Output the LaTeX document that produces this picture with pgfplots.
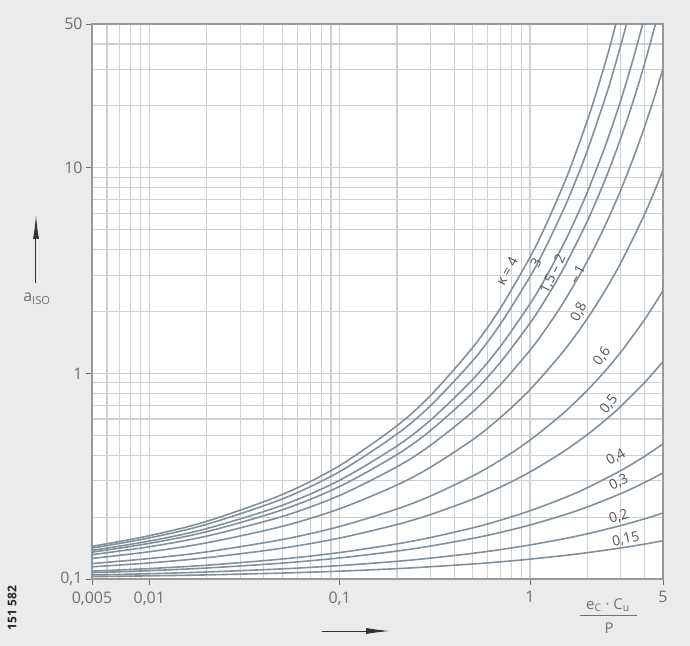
\documentclass[border=0pt]{standalone}
\usepackage{fontspec}
\setmainfont{Open Sans}
\usepackage{pgfplots}
\pgfplotsset{compat=1.18}
\usetikzlibrary{arrows.meta,backgrounds}

\definecolor{bgout}{RGB}{235,235,235}
\definecolor{gridc}{RGB}{208,208,208}
\definecolor{curve}{RGB}{128,145,158}
\definecolor{txt}{RGB}{112,112,112}
\definecolor{lbl}{RGB}{85,85,85}

\begin{document}
\begin{tikzpicture}
\begin{axis}[
  scale only axis, width=571bp, height=555bp,
  xmode=log, ymode=log,
  xmin=0.005, xmax=5, ymin=0.1, ymax=50,
  xtick={0.005,0.01,0.1,1,5},
  xticklabels={{0,005},{0,01},{0,1},1,5},
  ytick={0.1,1,10,50},
  yticklabels={{0,1},1,10,50},
  minor xtick={0.006,0.007,0.008,0.009,0.02,0.03,0.04,0.05,0.06,0.07,0.08,0.09,0.2,0.3,0.4,0.5,0.6,0.7,0.8,0.9,2,3,4},
  minor ytick={0.2,0.3,0.4,0.5,0.6,0.7,0.8,0.9,2,3,4,5,6,7,8,9,20,30,40},
  grid=both,
  major grid style={gridc, line width=1.2bp},
  minor grid style={gridc, line width=1.2bp},
  tick align=outside, tick pos=left,
  major tick length=6bp, minor tick length=0pt,
  tick style={txt, line width=0.8bp},
  axis line style={draw=gray!80, line width=1.2bp},
  ticklabel style={font=\fontsize{16}{19}\selectfont, text=txt},
  xticklabel style={yshift=-3bp},
  axis background/.style={fill=white},
  every axis plot post/.style={curve, solid, line width=1.6bp, smooth, mark=none},
]
% kappa = 4
\addplot coordinates {(0.005,0.1441)(0.01,0.1624)(0.02,0.1907)(0.05,0.2576)(0.1,0.3561)(0.2,0.5562)(0.3,0.7802)(0.5,1.335)(0.7,2.077)(1,3.667)(1.2,5.152)(1.5,8.255)(1.7,11.09)(2,16.92)(2.2,22.20)(2.5,32.92)(2.7,42.53)(3,61.98)};
% kappa = 3
\addplot coordinates {(0.005,0.1414)(0.01,0.1584)(0.02,0.1844)(0.05,0.2451)(0.1,0.3329)(0.2,0.5065)(0.3,0.6961)(0.5,1.151)(0.7,1.740)(1,2.951)(1.2,4.045)(1.5,6.249)(1.7,8.204)(2,12.09)(2.5,22.20)(2.7,28.02)(3,39.41)(3.2,49.26)(3.5,68.45)};
% kappa = 2
\addplot coordinates {(0.005,0.1377)(0.01,0.1529)(0.02,0.1758)(0.05,0.2283)(0.1,0.3021)(0.2,0.4433)(0.3,0.5919)(0.5,0.9335)(0.7,1.355)(1,2.175)(1.2,2.882)(1.5,4.243)(1.7,5.398)(2,7.597)(2.5,12.93)(3,21.27)(3.5,34.21)(4,54.11)};
% kappa = 1.5
\addplot coordinates {(0.005,0.1350)(0.01,0.1490)(0.02,0.1698)(0.05,0.2169)(0.1,0.2818)(0.2,0.4027)(0.3,0.5269)(0.5,0.8040)(0.7,1.133)(1,1.754)(1.2,2.270)(1.5,3.233)(2,5.494)(2.5,8.890)(3,13.92)(3.5,21.30)(4,32.05)(4.5,47.61)(5,70.06)};
% kappa = 1
\addplot coordinates {(0.005,0.1313)(0.01,0.1435)(0.02,0.1616)(0.05,0.2015)(0.1,0.2550)(0.2,0.3513)(0.3,0.4466)(0.5,0.6505)(0.7,0.8816)(1,1.295)(1.2,1.625)(1.5,2.213)(2,3.507)(2.5,5.311)(3,7.796)(3.5,11.19)(4,15.80)(4.5,22.01)(5,30.36)};
% kappa = 0.8
\addplot coordinates {(0.005,0.1259)(0.01,0.1357)(0.02,0.1499)(0.05,0.1804)(0.1,0.2196)(0.2,0.2865)(0.3,0.3494)(0.5,0.4759)(0.7,0.6101)(1,0.8332)(1.5,1.281)(2,1.846)(2.5,2.558)(3,3.448)(4,5.933)(5,9.713)};
% kappa = 0.6
\addplot coordinates {(0.005,0.1189)(0.01,0.1258)(0.02,0.1355)(0.05,0.1556)(0.1,0.1800)(0.2,0.2190)(0.3,0.2532)(0.5,0.3169)(0.7,0.3789)(1,0.4733)(1.5,0.6410)(2,0.8268)(2.5,1.035)(3,1.269)(4,1.826)(5,2.526)};
% kappa = 0.5
\addplot coordinates {(0.005,0.1146)(0.01,0.1197)(0.02,0.1269)(0.05,0.1412)(0.1,0.1582)(0.2,0.1840)(0.3,0.2058)(0.5,0.2443)(0.7,0.2800)(1,0.3314)(1.5,0.4164)(2,0.5035)(2.5,0.5948)(3,0.6911)(4,0.9019)(5,1.141)};
% kappa = 0.4
\addplot coordinates {(0.005,0.1092)(0.01,0.1124)(0.02,0.1167)(0.05,0.1251)(0.1,0.1345)(0.2,0.1482)(0.3,0.1591)(0.5,0.1773)(0.7,0.1932)(1,0.2146)(1.5,0.2472)(2,0.2778)(3,0.3367)(4,0.3950)(5,0.4541)};
% kappa = 0.3
\addplot coordinates {(0.005,0.1073)(0.01,0.1098)(0.02,0.1131)(0.05,0.1195)(0.1,0.1266)(0.2,0.1367)(0.3,0.1446)(0.5,0.1576)(0.7,0.1685)(1,0.1831)(1.5,0.2045)(2,0.2240)(3,0.2602)(4,0.2945)(5,0.3280)};
% kappa = 0.2
\addplot coordinates {(0.005,0.1046)(0.01,0.1061)(0.02,0.1082)(0.05,0.1120)(0.1,0.1162)(0.2,0.1219)(0.3,0.1263)(0.5,0.1333)(0.7,0.1390)(1,0.1464)(1.5,0.1568)(2,0.1659)(3,0.1819)(4,0.1962)(5,0.2094)};
% kappa = 0.15
\addplot coordinates {(0.005,0.1027)(0.01,0.1036)(0.02,0.1047)(0.05,0.1069)(0.1,0.1092)(0.2,0.1123)(0.3,0.1147)(0.5,0.1183)(0.7,0.1212)(1,0.1249)(1.5,0.1300)(2,0.1343)(3,0.1416)(4,0.1478)(5,0.1535)};

% curve labels
\begin{scope}[every node/.style={font=\fontsize{14}{16}\selectfont, text=lbl, inner sep=0pt}]
\node[rotate=62] at (axis cs:0.757,3.14) {κ = 4};
\node[rotate=62] at (axis cs:1.075,3.47) {3};
\node[rotate=64] at (axis cs:1.32,3.03) {1,5 – 2};
\node[rotate=62] at (axis cs:1.77,3.03) {– 1};
\node[rotate=64] at (axis cs:1.81,1.98) {0,8};
\node[rotate=55] at (axis cs:2.39,1.21) {0,6};
\node[rotate=52] at (axis cs:2.60,0.707) {0,5};
\node[rotate=30] at (axis cs:2.83,0.390) {0,4};
\node[rotate=27] at (axis cs:2.93,0.295) {0,3};
\node[rotate=18] at (axis cs:2.93,0.201) {0,2};
\node[rotate=12] at (axis cs:3.19,0.156) {0,15};
\end{scope}
\end{axis}

% descriptions outside the axis
\begin{scope}[shift={(current axis.south west)}]
\node[font=\fontsize{15}{18}\selectfont, text=txt] at (516bp,-26bp) {e\textsubscript{C} · C\textsubscript{u}};
\draw[txt, line width=0.8bp] (488bp,-36bp) -- (545bp,-36bp);
\node[font=\fontsize{15}{18}\selectfont, text=txt] at (517bp,-49bp) {P};
\draw[black!80, line width=1bp, -{Latex[length=24bp,width=6bp]}] (230bp,-52bp) -- (298bp,-52bp);
\draw[black!80, line width=1bp, -{Latex[length=24bp,width=6bp]}] (-56bp,296bp) -- (-56bp,364bp);
\node[font=\fontsize{16}{19}\selectfont, text=txt] at (-55bp,280bp) {a\textsubscript{ISO}};
\node[font=\bfseries\fontsize{12}{14}\selectfont, text=black!85, rotate=90] at (-80bp,-29bp) {151 582};
\end{scope}

\begin{pgfonlayer}{background}
\fill[bgout] ([shift={(-92bp,-67bp)}]current axis.south west) rectangle ([shift={(27bp,24bp)}]current axis.north east);
\end{pgfonlayer}
\end{tikzpicture}
\end{document}
